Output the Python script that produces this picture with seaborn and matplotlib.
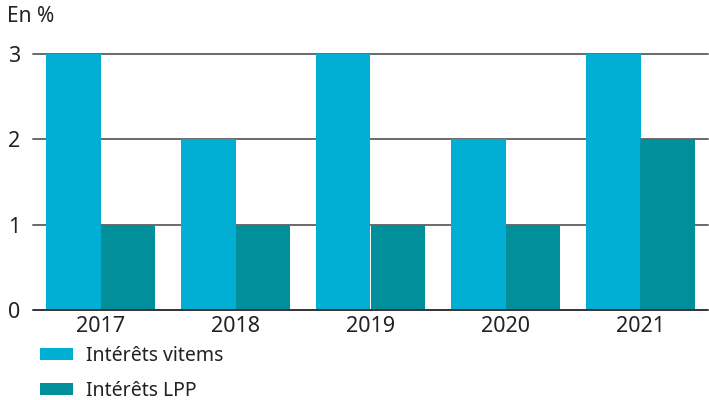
import pandas as pd
import matplotlib.pyplot as plt
import seaborn as sns

annees = ["2017", "2018", "2019", "2020", "2021"]
vitems = [3, 2, 3, 2, 3]
lpp = [1, 1, 1, 1, 2]
series = ["Intérêts vitems", "Intérêts LPP"]
couleurs = ["#00AFD3", "#008F9B"]

df = pd.DataFrame({
    "annee": annees * 2,
    "valeur": vitems + lpp,
    "serie": [series[0]] * len(annees) + [series[1]] * len(annees),
})

sns.set_style("white")
plt.rcParams["font.family"] = ["Noto Sans", "DejaVu Sans"]

fig = plt.figure(figsize=(7.09, 4.0), dpi=100)
ax = fig.add_axes([33 / 709, 1 - 310 / 400, 675 / 709, 256 / 400])

sns.barplot(data=df, x="annee", y="valeur", hue="serie", palette=couleurs,
            width=0.81, saturation=1, ax=ax, zorder=3, legend=True,
            edgecolor="none", linewidth=0)

ax.set_xlim(-0.5, 4.5)
ax.set_ylim(0, 3)
ax.set_yticks([0, 1, 2, 3])
for y in [1, 2, 3]:
    ax.axhline(y, color="#6a6a6a", lw=1.4, zorder=1, clip_on=False)
ax.axhline(0, color="#333333", lw=1.4, zorder=4, clip_on=False)
for s in ax.spines.values():
    s.set_visible(False)
ax.tick_params(axis="both", length=0, labelsize=15.5, colors="#222222")
ax.tick_params(axis="y", pad=9)
ax.tick_params(axis="x", pad=4)
ax.set_xlabel("")
ax.set_ylabel("")

fig.text(7 / 709, 1 - 17 / 400, "En %", fontsize=15, color="#222222", va="center")

handles, labels = ax.get_legend_handles_labels()
ax.get_legend().remove()
fig.legend(handles, labels, loc="upper left", bbox_to_anchor=(40 / 709, 1 - 346 / 400),
           frameon=False, fontsize=14, handlelength=1.7, handleheight=0.6,
           labelspacing=0.75, handletextpad=0.65, labelcolor="#222222",
           borderpad=0, borderaxespad=0)

fig.savefig("out.png", dpi=100)
